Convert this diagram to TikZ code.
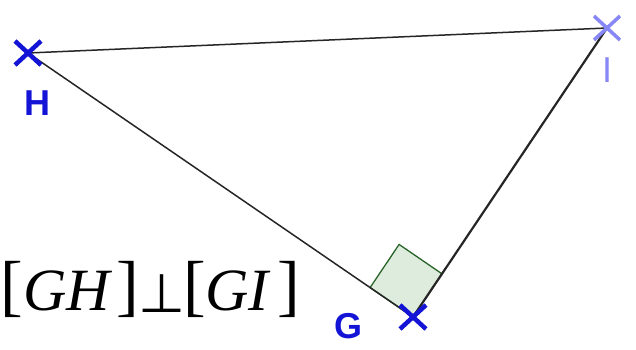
\documentclass[tikz,border=0pt]{standalone}
\usepackage{fontspec}
\usetikzlibrary{calc}
\setmainfont{Liberation Serif}
\newfontfamily\lblfont{Liberation Sans}
\newfontfamily\perpfont{DejaVu Sans}
\begin{document}
\begin{tikzpicture}[x=1pt,y=-1pt,
  cross/.style={line width=4.5pt,line cap=butt},
  seg/.style={line width=1.5pt,color=black!85},
  lbl/.style={font=\lblfont\bfseries\fontsize{36}{36}\selectfont,anchor=base,inner sep=0pt},
  mth/.style={font=\fontsize{60}{60}\selectfont,anchor=base west,inner sep=0pt},
  brk/.style={font=\fontsize{68}{68}\selectfont,anchor=base west,inner sep=0pt}]
\definecolor{dblue}{RGB}{20,20,215}
\definecolor{lblue}{RGB}{135,135,245}
\definecolor{rafill}{RGB}{222,236,222}
\definecolor{radraw}{RGB}{40,100,40}
\useasboundingbox (0,0) rectangle (636,350);
\coordinate (H) at (28,53);
\coordinate (I) at (607,28);
\coordinate (G) at (413,317);
% right angle mark
\coordinate (A) at ($(G)!52pt!(H)$);
\coordinate (B) at ($(G)!52pt!(I)$);
\filldraw[fill=rafill,draw=radraw,line width=1.3pt] (G) -- (A) -- ($(A)+(B)-(G)$) -- (B) -- cycle;
% segments
\draw[seg] (H) -- (I);
\draw[seg] (H) -- (G);
\draw[seg,line width=2.2pt] (G) -- (I);
% crosses
\draw[cross,dblue] ($(H)+(-13,-12)$) -- ($(H)+(13,12)$) ($(H)+(-13,12)$) -- ($(H)+(13,-12)$);
\draw[cross,dblue] ($(G)+(-13,-12)$) -- ($(G)+(13,12)$) ($(G)+(-13,12)$) -- ($(G)+(13,-12)$);
\draw[cross,lblue,line width=3.5pt] ($(I)+(-13,-12)$) -- ($(I)+(13,12)$) ($(I)+(-13,12)$) -- ($(I)+(13,-12)$);
% labels
\node[lbl,text=dblue] (lH) at (37,115) {H};
\node[lbl,text=lblue,font=\lblfont\fontsize{36}{36}\selectfont] (lI) at (607,83) {I};
\node[lbl,text=dblue] (lG) at (348,338) {G};
% formula
\node[brk] (b1) at (0,308) {[};
\node[mth] (gh) at (23,310) {\itshape GH};
\node[brk] (b2) at (116,308) {]};
\node[mth,font=\perpfont\fontsize{54}{54}\selectfont] (perp) at (138,312) {⊥};
\node[brk] (b3) at (183,308) {[};
\node[mth] (gi) at (205,310) {\itshape GI};
\node[brk] (b4) at (277,308) {]};
\end{tikzpicture}
\end{document}
